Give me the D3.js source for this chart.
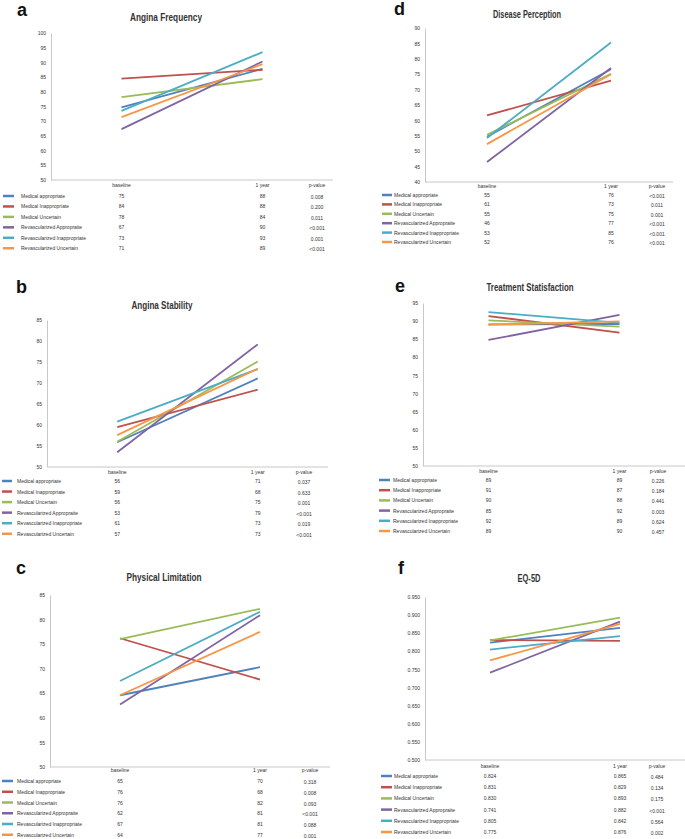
<!DOCTYPE html>
<html>
<head>
<meta charset="utf-8">
<script src="https://cdn.jsdelivr.net/npm/d3@7"></script>
<style>
  html, body { margin: 0; padding: 0; background: #ffffff; }
  svg { display: block; }
  .lbl { font-family: "Liberation Sans", Arial, sans-serif; fill: #333; }
</style>
</head>
<body>
<svg id="chart" width="685" height="839"></svg>
<script>
// ---- data ----
const seriesNames = ["Medical appropriate", "Medical Inappropriate", "Medical Uncertain",
  "Revascularized Appropraite", "Revascularized Inappropriate", "Revascularized Uncertain"];
const seriesColors = ["#4F81BD", "#C0504D", "#9BBB59", "#8064A2", "#4BACC6", "#F79646"];
const timepoints = ["baseline", "1 year"];

// a: Angina Frequency
const afBase = [74.7, 84.5, 78.2, 67.3, 73.5, 71.4];
const afYear = [87.8, 87.5, 84.3, 90.3, 93.5, 89.4];
const afBaseLbl = ["75", "84", "78", "67", "73", "71"];
const afYearLbl = ["88", "88", "84", "90", "93", "89"];
const afP = ["0.008", "0.200", "0.011", "<0.001", "0.001", "<0.001"];
const afTicks = [50, 55, 60, 65, 70, 75, 80, 85, 90, 95, 100];

// b: Angina Stability
const asBase = [55.9, 59.5, 56.0, 53.5, 60.8, 57.6];
const asYear = [71.1, 68.4, 75.1, 79.2, 73.3, 73.4];
const asBaseLbl = ["56", "59", "56", "53", "61", "57"];
const asYearLbl = ["71", "68", "75", "79", "73", "73"];
const asP = ["0.037", "0.633", "0.001", "<0.001", "0.019", "<0.001"];
const asTicks = [50, 55, 60, 65, 70, 75, 80, 85];

// c: Physical Limitation
const plBase = [64.6, 76.2, 76.0, 62.7, 67.5, 64.6];
const plYear = [70.3, 67.8, 82.2, 80.9, 81.6, 77.5];
const plBaseLbl = ["65", "76", "76", "62", "67", "64"];
const plYearLbl = ["70", "68", "82", "81", "81", "77"];
const plP = ["0.318", "0.008", "0.093", "<0.001", "0.088", "0.001"];
const plTicks = [50, 55, 60, 65, 70, 75, 80, 85];

// d: Disease Perception
const dpBase = [54.7, 61.6, 55.3, 46.5, 54.3, 52.3];
const dpYear = [76.6, 72.9, 75.1, 77.0, 85.3, 75.0];
const dpBaseLbl = ["55", "61", "55", "46", "53", "52"];
const dpYearLbl = ["76", "73", "75", "77", "85", "76"];
const dpP = ["<0.001", "0.011", "0.001", "<0.001", "<0.001", "<0.001"];
const dpTicks = [40, 45, 50, 55, 60, 65, 70, 75, 80, 85, 90];

// e: Treatment Statisfaction
const tsBase = [89.1, 91.4, 90.2, 84.8, 92.5, 89.0];
const tsYear = [89.2, 86.8, 88.5, 91.7, 89.5, 89.9];
const tsBaseLbl = ["89", "91", "90", "85", "92", "89"];
const tsYearLbl = ["89", "87", "88", "92", "89", "90"];
const tsP = ["0.226", "0.184", "0.441", "0.003", "0.624", "0.457"];
const tsTicks = [50, 55, 60, 65, 70, 75, 80, 85, 90, 95];

// f: EQ-5D
const eqBase = [0.824, 0.831, 0.830, 0.741, 0.805, 0.775];
const eqYear = [0.865, 0.829, 0.893, 0.882, 0.842, 0.876];
const eqBaseLbl = ["0.824", "0.831", "0.830", "0.741", "0.805", "0.775"];
const eqYearLbl = ["0.865", "0.829", "0.893", "0.882", "0.842", "0.876"];
const eqP = ["0.484", "0.134", "0.175", "<0.001", "0.564", "0.002"];
const eqTicks = [0.5, 0.55, 0.6, 0.65, 0.7, 0.75, 0.8, 0.85, 0.9, 0.95];

// ---- layout ----
const panels = [
  { letter: "a", title: "Angina Frequency", base: afBase, year: afYear, bl: afBaseLbl, yl: afYearLbl, p: afP, ticks: afTicks, fmt: d3.format("d"),
    x0: 51, x1: 333, yTop: 33, yBot: 180, titleX: 166, titleY: 21, titleW: 72, letX: 17, letY: 16,
    headY: 187, rowY: 198, rowStep: 10.45, legX0: 3, legX1: 14, legTx: 21, pX: 317 },
  { letter: "b", title: "Angina Stability", base: asBase, year: asYear, bl: asBaseLbl, yl: asYearLbl, p: asP, ticks: asTicks, fmt: d3.format("d"),
    x0: 47, x1: 328, yTop: 320, yBot: 467, titleX: 162, titleY: 309, titleW: 61, letX: 16, letY: 293,
    headY: 474, rowY: 483, rowStep: 10.55, legX0: 2, legX1: 12, legTx: 17, pX: 304 },
  { letter: "c", title: "Physical Limitation", base: plBase, year: plYear, bl: plBaseLbl, yl: plYearLbl, p: plP, ticks: plTicks, fmt: d3.format("d"),
    x0: 50, x1: 330, yTop: 595, yBot: 767, titleX: 164, titleY: 581, titleW: 75, letX: 16, letY: 574,
    headY: 772, rowY: 783, rowStep: 10.75, legX0: 2, legX1: 13, legTx: 17, pX: 310 },
  { letter: "d", title: "Disease Perception", base: dpBase, year: dpYear, bl: dpBaseLbl, yl: dpYearLbl, p: dpP, ticks: dpTicks, fmt: d3.format("d"),
    x0: 425, x1: 673, yTop: 28, yBot: 182, titleX: 527, titleY: 18, titleW: 68, letX: 394, letY: 15,
    headY: 188, rowY: 197, rowStep: 9.4, legX0: 382, legX1: 392, legTx: 394, pX: 657 },
  { letter: "e", title: "Treatment Statisfaction", base: tsBase, year: tsYear, bl: tsBaseLbl, yl: tsYearLbl, p: tsP, ticks: tsTicks, fmt: d3.format("d"),
    x0: 423, x1: 685, yTop: 303, yBot: 466, titleX: 530, titleY: 291, titleW: 87, letX: 395, letY: 292,
    headY: 473, rowY: 482, rowStep: 10.2, legX0: 379, legX1: 390, legTx: 393, pX: 658 },
  { letter: "f", title: "EQ-5D", base: eqBase, year: eqYear, bl: eqBaseLbl, yl: eqYearLbl, p: eqP, ticks: eqTicks, fmt: d3.format(".3f"),
    x0: 425, x1: 685, yTop: 597, yBot: 760, titleX: 529, titleY: 582, titleW: 23, letX: 398, letY: 574,
    headY: 768, rowY: 778, rowStep: 11.2, legX0: 381, legX1: 392, legTx: 394, pX: 657 }
];

const svg = d3.select("#chart");
svg.append("rect").attr("width", 685).attr("height", 839).attr("fill", "#fff");

panels.forEach(P => {
  const g = svg.append("g");
  const x = d3.scalePoint().domain(timepoints).range([P.x0, P.x1]).padding(0.5);
  const y = d3.scaleLinear().domain([P.ticks[0], P.ticks[P.ticks.length - 1]]).range([P.yBot, P.yTop]);

  // panel letter
  g.append("text").attr("x", P.letX).attr("y", P.letY)
    .attr("font-family", "Liberation Sans, Arial, sans-serif").attr("font-weight", "bold")
    .attr("font-size", 18).attr("fill", "#111").text(P.letter);

  // title
  g.append("text").attr("class", "lbl").attr("x", P.titleX).attr("y", P.titleY)
    .attr("text-anchor", "middle").attr("font-size", 10).attr("font-weight", "bold")
    .attr("textLength", P.titleW).attr("lengthAdjust", "spacingAndGlyphs")
    .attr("fill", "#222").text(P.title);

  // y axis
  const yAxis = d3.axisLeft(y).tickValues(P.ticks).tickFormat(P.fmt).tickSize(0).tickPadding(5);
  const ya = g.append("g").attr("transform", `translate(${P.x0},0)`).call(yAxis);
  ya.select(".domain").attr("stroke", "#c8c8c8");
  ya.selectAll("text").attr("class", "lbl").attr("font-size", 5).attr("fill", "#444");

  // x axis line
  g.append("line").attr("x1", P.x0).attr("x2", P.x1).attr("y1", P.yBot).attr("y2", P.yBot)
    .attr("stroke", "#c8c8c8").attr("stroke-width", 1);

  // lines
  seriesNames.forEach((name, i) => {
    const pts = [[timepoints[0], P.base[i]], [timepoints[1], P.year[i]]];
    g.append("path")
      .attr("d", d3.line().x(d => x(d[0])).y(d => y(d[1]))(pts))
      .attr("fill", "none").attr("stroke", seriesColors[i]).attr("stroke-width", 1.8);
  });

  // table header
  const hdr = [[x(timepoints[0]), "baseline"], [x(timepoints[1]), "1 year"], [P.pX, "p-value"]];
  hdr.forEach(h => {
    g.append("text").attr("class", "lbl").attr("x", h[0]).attr("y", P.headY)
      .attr("text-anchor", "middle").attr("font-size", 5).attr("fill", "#333").text(h[1]);
  });

  // table rows
  seriesNames.forEach((name, i) => {
    const ry = P.rowY + i * P.rowStep;
    g.append("line").attr("x1", P.legX0).attr("x2", P.legX1).attr("y1", ry - 2).attr("y2", ry - 2)
      .attr("stroke", seriesColors[i]).attr("stroke-width", 2.5);
    g.append("text").attr("class", "lbl").attr("x", P.legTx).attr("y", ry)
      .attr("font-size", 5).attr("fill", "#333").text(name);
    g.append("text").attr("class", "lbl").attr("x", x(timepoints[0])).attr("y", ry)
      .attr("text-anchor", "middle").attr("font-size", 5).attr("fill", "#333").text(P.bl[i]);
    g.append("text").attr("class", "lbl").attr("x", x(timepoints[1])).attr("y", ry)
      .attr("text-anchor", "middle").attr("font-size", 5).attr("fill", "#333").text(P.yl[i]);
    g.append("text").attr("class", "lbl").attr("x", P.pX).attr("y", ry + 1)
      .attr("text-anchor", "middle").attr("font-size", 5).attr("fill", "#333").text(P.p[i]);
  });
});
</script>
</body>
</html>
